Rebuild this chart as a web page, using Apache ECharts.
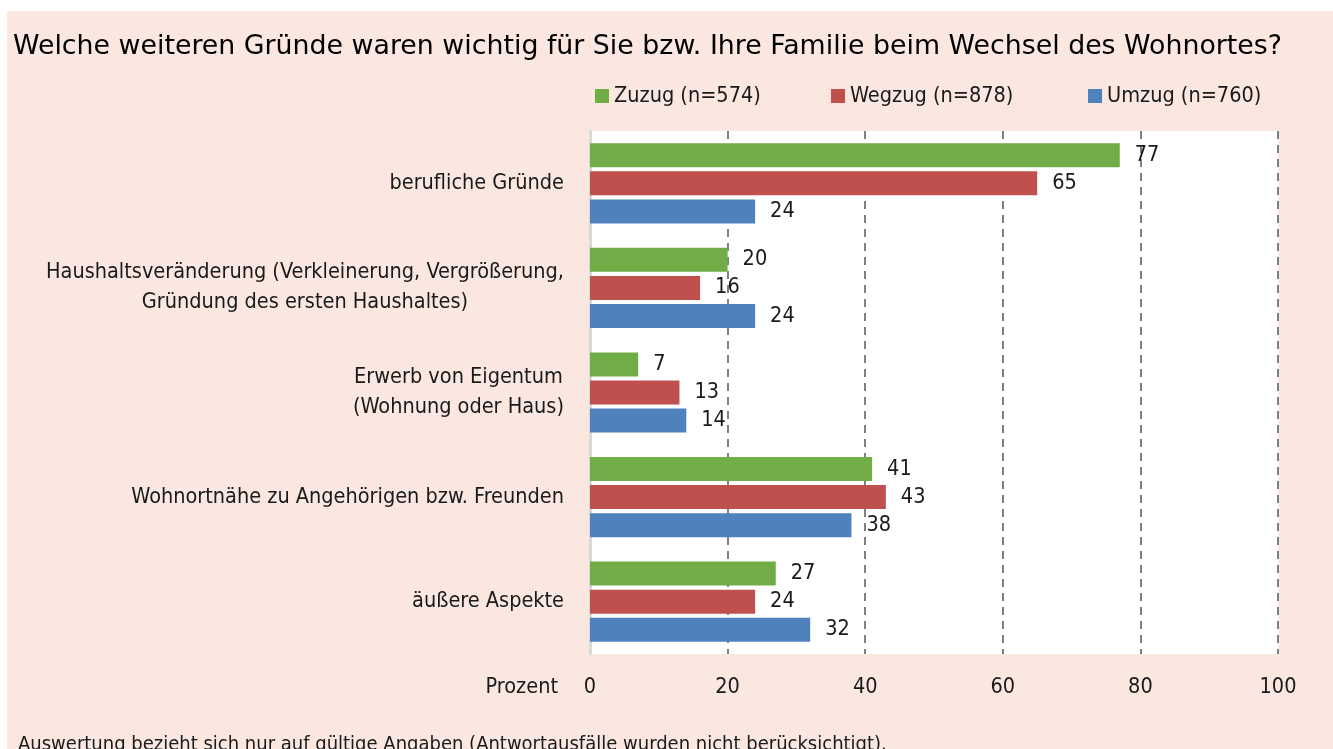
<!DOCTYPE html>
<html>
<head>
<meta charset="utf-8">
<script src="https://cdn.jsdelivr.net/npm/echarts@6/dist/echarts.min.js"></script>
<style>
  html, body { margin: 0; padding: 0; background: #ffffff; }
  #bg { position: absolute; left: 7px; top: 11px; right: 0; bottom: 0; background: #f9e7e0; }
  #chart { position: absolute; left: 0; top: 0; width: 1333px; height: 749px; }
</style>
</head>
<body>
<div id="bg"></div>
<div id="chart"></div>
<script>
// Kategorien und Werte (Prozent)
var categories = [
    'berufliche Gründe',
    'Haushaltsveränderung (Verkleinerung, Vergrößerung,\nGründung des ersten Haushaltes)',
    'Erwerb von Eigentum\n(Wohnung oder Haus)',
    'Wohnortnähe zu Angehörigen bzw. Freunden',
    'äußere Aspekte'
];
var zuzug = [77, 20, 7, 41, 27];
var wegzug = [65, 16, 13, 43, 24];
var umzug = [24, 24, 14, 38, 32];
var seriesNames = ['Zuzug (n=574)', 'Wegzug (n=878)', 'Umzug (n=760)'];
var xTicks = [0, 20, 40, 60, 80, 100];

var narrow = "'Liberation Sans Narrow', 'DejaVu Sans Condensed', sans-serif";
var colors = ['#70ad47', '#c0504d', '#4f81bd'];

var myChart = echarts.init(document.getElementById('chart'));

function makeSeries(name, data, color) {
    return {
        name: name,
        type: 'bar',
        data: data,
        barWidth: 24,
        barGap: '17%',
        itemStyle: { color: color },
        label: {
            show: true,
            position: 'right',
            distance: 15,
            color: '#1a1a1a',
            fontFamily: narrow,
            fontSize: 21.5
        }
    };
}

function legendAt(left, name) {
    return {
        data: [name],
        left: left,
        top: 80,
        itemWidth: 14,
        itemHeight: 14,
        itemGap: 4,
        icon: 'rect',
        textStyle: { fontFamily: narrow, fontSize: 21.5, color: '#1a1a1a' }
    };
}

// 0-Linie ist die Achse, keine gestrichelte Linie
var gridColors = xTicks.map(function (t) { return t === 0 ? 'rgba(0,0,0,0)' : '#808080'; });

var option = {
    backgroundColor: 'transparent',
    animation: false,
    title: [{
        text: 'Welche weiteren Gründe waren wichtig für Sie bzw. Ihre Familie beim Wechsel des Wohnortes?',
        left: 8,
        top: 29,
        textStyle: { fontFamily: "'DejaVu Sans', sans-serif", fontSize: 26.8, fontWeight: 'normal', color: '#000' }
    }, {
        text: 'Auswertung bezieht sich nur auf gültige Angaben (Antwortausfälle wurden nicht berücksichtigt).',
        left: 13,
        top: 730,
        textStyle: { fontFamily: narrow, fontSize: 20, fontWeight: 'normal', color: '#1a1a1a' }
    }],
    legend: [
        legendAt(590, seriesNames[0]),
        legendAt(826, seriesNames[1]),
        legendAt(1083, seriesNames[2])
    ],
    grid: {
        left: 590,
        right: 55,
        top: 131,
        bottom: 95,
        show: true,
        backgroundColor: '#ffffff',
        borderWidth: 0
    },
    xAxis: {
        type: 'value',
        min: xTicks[0],
        max: xTicks[xTicks.length - 1],
        interval: 20,
        axisLine: { show: false },
        axisTick: { show: false },
        axisLabel: {
            margin: 22,
            color: '#1a1a1a',
            fontFamily: narrow,
            fontSize: 21.5
        },
        splitLine: {
            show: true,
            lineStyle: { color: gridColors, width: 2, type: [8, 6] }
        }
    },
    yAxis: {
        type: 'category',
        data: categories,
        inverse: true,
        axisLine: { show: true, lineStyle: { color: '#d9d9d9', width: 3 } },
        axisTick: { show: false },
        axisLabel: {
            margin: 26,
            color: '#1a1a1a',
            fontFamily: narrow,
            fontSize: 21.5,
            lineHeight: 30,
            formatter: function (v) {
                return v.split('\n').map(function (l) { return '{c|' + l + '}'; }).join('\n');
            },
            rich: {
                c: { align: 'center', fontFamily: narrow, fontSize: 21.5, lineHeight: 30, color: '#1a1a1a' }
            }
        }
    },
    graphic: [{
        type: 'text',
        right: 1333 - 558,
        top: 676,
        style: { text: 'Prozent', fontFamily: narrow, fontSize: 21.5, fill: '#1a1a1a' }
    }],
    series: [
        makeSeries(seriesNames[0], zuzug, colors[0]),
        makeSeries(seriesNames[1], wegzug, colors[1]),
        makeSeries(seriesNames[2], umzug, colors[2])
    ]
};

myChart.setOption(option);
</script>
</body>
</html>
